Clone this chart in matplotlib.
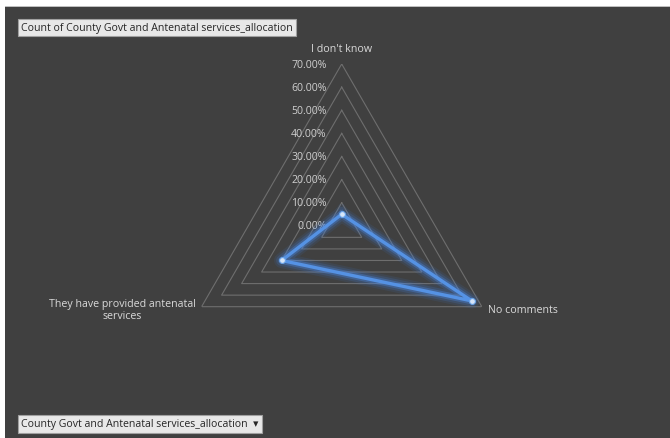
import numpy as np
import matplotlib
matplotlib.use("Agg")
import matplotlib.pyplot as plt
import matplotlib.patheffects as pe
from matplotlib.patches import Rectangle

# Data
categories = ["I don't know", "No comments", "They have provided antenatal\nservices"]
shares = [5.0, 65.0, 30.0]            # percent of responses
ring_values = [0, 10, 20, 30, 40, 50, 60, 70]
ring_labels = [f"{v:.2f}%" for v in ring_values]
title_text = "Count of County Govt and Antenatal services_allocation"
filter_text = "County Govt and Antenatal services_allocation  \u25BE"

W, H = 670, 439
panel_color = "#404040"
fig = plt.figure(figsize=(W / 100, H / 100), dpi=100, facecolor=panel_color)

# light sheet margin along the top and left edges
fig.patches.append(Rectangle((0, (H - 8) / H), 1, 8 / H, transform=fig.transFigure,
                             facecolor="#ffffff", edgecolor="none", zorder=-5))
fig.patches.append(Rectangle((0, 0), 5 / W, 1, transform=fig.transFigure,
                             facecolor="#ffffff", edgecolor="none", zorder=-5))
fig.patches.append(Rectangle((5 / W, (H - 8) / H), 1, 1.2 / H, transform=fig.transFigure,
                             facecolor="#bfbfbf", edgecolor="none", zorder=-4))

# radar axes
cx, cy, R = 341.7, H - 226.8, 161.8
ax = fig.add_axes([(cx - R) / W, (cy - R) / H, 2 * R / W, 2 * R / H], projection="polar")
ax.set_facecolor("none")
ax.set_theta_offset(np.pi / 2)
ax.set_theta_direction(-1)
ax.set_ylim(0, 70)
ax.grid(False)
ax.spines["polar"].set_visible(False)
ax.set_xticks([])
ax.set_yticks([])

n = len(categories)
angles = np.arange(n) * 2 * np.pi / n
closed = np.append(angles, angles[0])

# triangular gridlines
for v in ring_values[1:]:
    ax.plot(closed, [v] * (n + 1), color="#6e6e6e", lw=0.8, zorder=1)

# ring value labels
for v, lab in zip(ring_values, ring_labels):
    ax.annotate(lab, xy=(0, v), xytext=(-15, 0), textcoords="offset pixels",
                ha="right", va="center", color="#d0d0d0", fontsize=7.6,
                family=["Open Sans", "DejaVu Sans"], annotation_clip=False)

# category labels
label_offsets = [(0, 16, "center"), (6, -3, "left"), (-6, -3, "right")]
for ang, lab, (dx, dy, ha) in zip(angles, categories, label_offsets):
    ax.annotate(lab, xy=(ang, 70), xytext=(dx, dy), textcoords="offset pixels",
                ha=ha, va="center", multialignment="center", color="#d9d9d9",
                fontsize=7.7, family=["Open Sans", "DejaVu Sans"], linespacing=1.15,
                annotation_clip=False)

# data series with soft glow
vals = np.append(shares, shares[0])
glow = [pe.Stroke(linewidth=11, foreground="#3f7fe0", alpha=0.10),
        pe.Stroke(linewidth=8, foreground="#3f7fe0", alpha=0.18),
        pe.Stroke(linewidth=5, foreground="#4a88e6", alpha=0.35),
        pe.Normal()]
ax.plot(closed, vals, color="#5592e4", lw=2.4, zorder=3, path_effects=glow,
        solid_joinstyle="round", clip_on=False)
ax.plot(angles, shares, "o", ms=4.2, color="#d6e5f8", mec="#6aa4ea", mew=0.8, zorder=4,
        clip_on=False)

# field buttons
for txt, ypix in [(title_text, 28.5), (filter_text, 425)]:
    fig.text(21 / W, 1 - ypix / H, txt, ha="left", va="center", fontsize=7.6,
             color="#262626", family=["Open Sans", "DejaVu Sans"],
             bbox=dict(boxstyle="square,pad=0.3", facecolor="#e8e8e8",
                       edgecolor="#a0a0a0", lw=0.8))

fig.savefig("out.png", dpi=100, facecolor=fig.get_facecolor())
